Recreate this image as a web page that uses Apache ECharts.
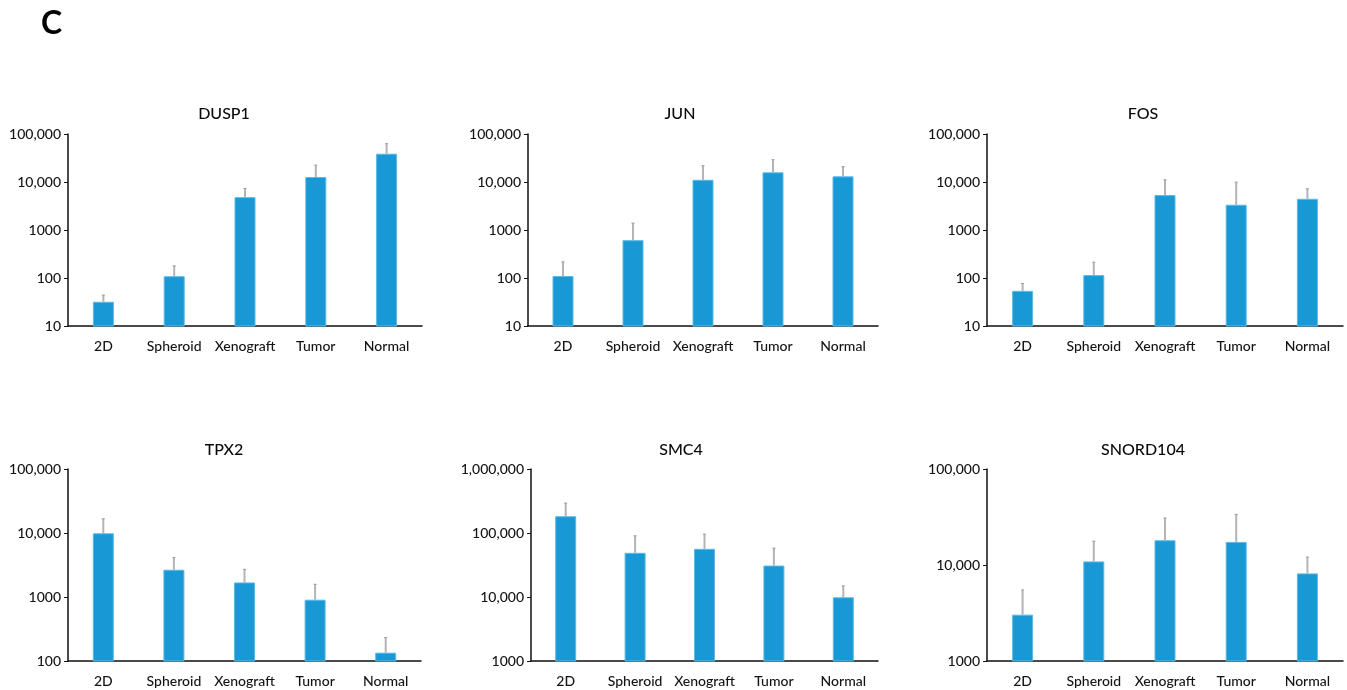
<!DOCTYPE html>
<html>
<head>
<meta charset="utf-8">
<title>Gene expression by culture model</title>
<script src="https://cdn.jsdelivr.net/npm/echarts@6/dist/echarts.min.js"></script>
<style>
  html, body { margin: 0; padding: 0; background: #ffffff; }
  #chart { width: 1347px; height: 690px; }
</style>
</head>
<body>
<div id="chart"></div>
<script>
// Sample groups shared by every panel
const groups = ['2D', 'Spheroid', 'Xenograft', 'Tumor', 'Normal'];
const genes = ['DUSP1', 'JUN', 'FOS', 'TPX2', 'SMC4', 'SNORD104'];

// Mean expression and upper end of the error bar, per gene
const dusp1Mean = [32, 109, 4840, 12700, 38900];
const dusp1Upper = [44, 179, 7340, 22500, 62800];
const junMean = [110, 614, 11100, 15900, 13100];
const junUpper = [217, 1390, 21800, 29100, 20800];
const fosMean = [54, 115, 5340, 3360, 4470];
const fosUpper = [77, 213, 11100, 9930, 7210];
const tpx2Mean = [9900, 2670, 1690, 908, 135];
const tpx2Upper = [16700, 4120, 2700, 1580, 232];
const smc4Mean = [183000, 49000, 56600, 31000, 9900];
const smc4Upper = [293000, 90300, 96000, 58000, 14900];
const snord104Mean = [3040, 10900, 18100, 17400, 8180];
const snord104Upper = [5500, 17700, 30900, 33700, 12100];

// Log axis ranges (min, max) per gene
const axisMin = [10, 10, 10, 100, 1000, 1000];
const axisMax = [100000, 100000, 100000, 100000, 1000000, 100000];

const means = [dusp1Mean, junMean, fosMean, tpx2Mean, smc4Mean, snord104Mean];
const uppers = [dusp1Upper, junUpper, fosUpper, tpx2Upper, smc4Upper, snord104Upper];

// Panel placement in pixels
const panels = [
  { left: 68,  top: 134, width: 354, height: 192, titleX: 224,  titleY: 114 },
  { left: 528, top: 134, width: 350, height: 192, titleX: 680,  titleY: 114 },
  { left: 987, top: 134, width: 356, height: 192, titleX: 1143, titleY: 114 },
  { left: 68,  top: 469, width: 353, height: 192, titleX: 224,  titleY: 450 },
  { left: 531, top: 469, width: 347, height: 192, titleX: 681,  titleY: 450 },
  { left: 987, top: 469, width: 356, height: 192, titleX: 1143, titleY: 450 }
];

const FONT = 'Lato, "Open Sans", "DejaVu Sans", sans-serif';
const BAR_COLOR = '#1899d6';
const TEXT_COLOR = '#141414';

function tickLabel(v) {
  const n = Math.round(v);
  return n >= 10000 ? n.toLocaleString('en-US') : String(n);
}

const grid = [], xAxis = [], yAxis = [], series = [], graphic = [];

graphic.push({
  type: 'text', left: 41, top: 8,
  style: { text: 'C', font: 'bold 32px ' + FONT, fill: '#000' }
});

panels.forEach((p, i) => {
  grid.push({ left: p.left, top: p.top, width: p.width, height: p.height, containLabel: false });

  graphic.push({
    type: 'text', x: p.titleX, y: p.titleY,
    style: { text: genes[i], font: '500 16px ' + FONT, fill: '#0a0a0a', align: 'center', verticalAlign: 'middle' }
  });

  xAxis.push({
    type: 'category', gridIndex: i, data: groups,
    axisLine: { lineStyle: { color: '#111', width: 1.5 } },
    axisTick: { show: false },
    axisLabel: { color: TEXT_COLOR, fontSize: 14, fontWeight: 500, fontFamily: FONT, margin: 13, interval: 0 }
  });

  yAxis.push({
    type: 'log', logBase: 10, gridIndex: i,
    min: axisMin[i], max: axisMax[i],
    axisLine: { show: true, lineStyle: { color: '#111', width: 1.5 } },
    axisTick: { show: true, length: 4, lineStyle: { color: '#111', width: 1 } },
    minorTick: { show: false },
    splitLine: { show: false },
    axisLabel: { color: TEXT_COLOR, fontSize: 14, fontWeight: 500, fontFamily: FONT, margin: 7, formatter: tickLabel }
  });

  series.push({
    type: 'bar', xAxisIndex: i, yAxisIndex: i,
    data: means[i], barWidth: 21,
    itemStyle: { color: BAR_COLOR, borderColor: '#5db8e4', borderWidth: 1 },
    silent: true, z: 2
  });

  // error bars: vertical whisker from the mean up to the upper bound
  series.push({
    type: 'custom', xAxisIndex: i, yAxisIndex: i,
    data: groups.map((g, k) => [k, uppers[i][k], means[i][k]]),
    encode: { x: 0, y: 1 },
    silent: true, z: 1,
    renderItem: function (params, api) {
      const top = api.coord([api.value(0), api.value(1)]);
      const base = api.coord([api.value(0), api.value(2)]);
      return {
        type: 'group',
        children: [
          { type: 'line', shape: { x1: top[0], y1: top[1], x2: base[0], y2: base[1] },
            style: { stroke: '#b4b4b4', lineWidth: 2 } },
          { type: 'line', shape: { x1: top[0] - 1.5, y1: top[1], x2: top[0] + 1.5, y2: top[1] },
            style: { stroke: '#999', lineWidth: 1 } }
        ]
      };
    }
  });
});

const chart = echarts.init(document.getElementById('chart'), null, { renderer: 'canvas' });
chart.setOption({
  backgroundColor: '#ffffff',
  animation: false,
  grid, xAxis, yAxis, series, graphic
});
</script>
</body>
</html>
